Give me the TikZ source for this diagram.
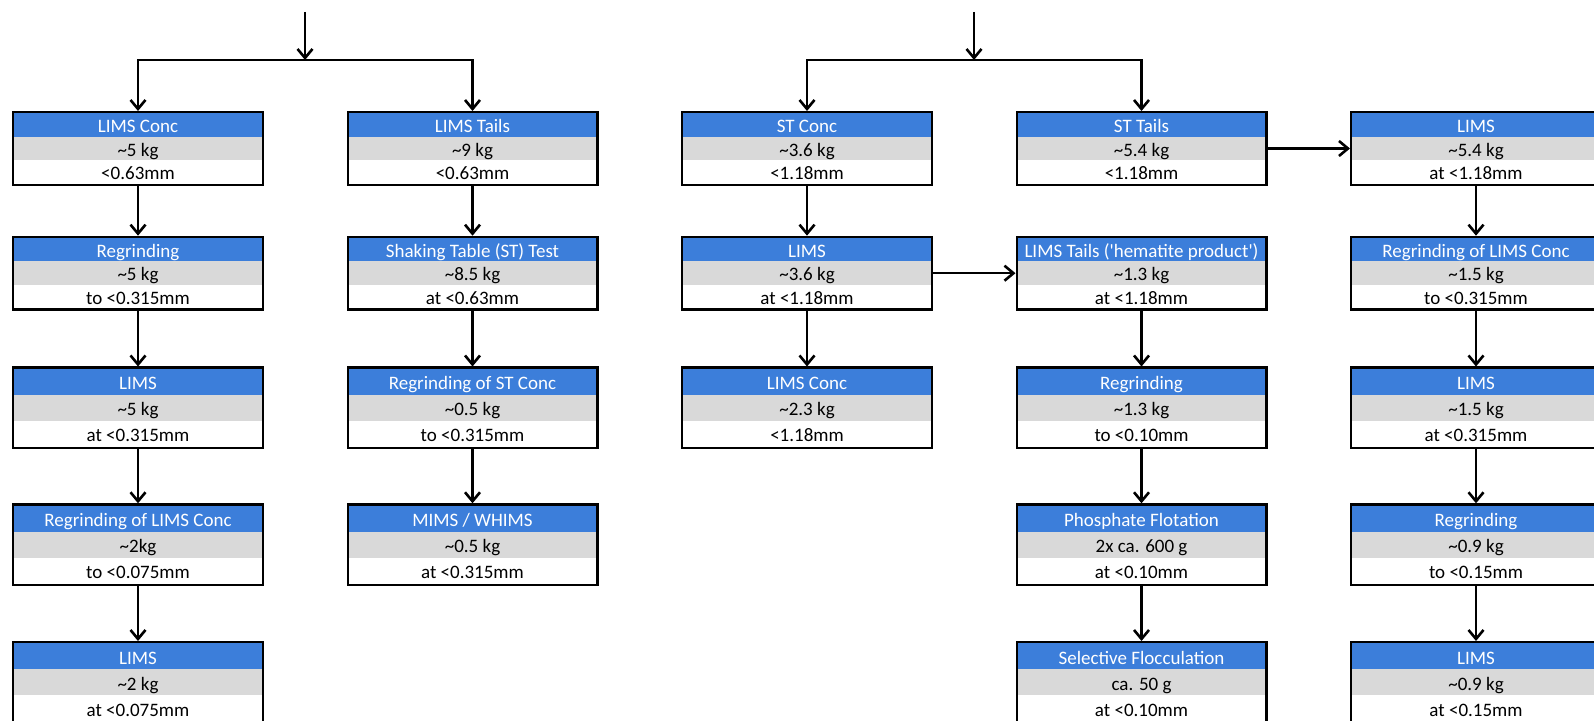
\documentclass[tikz,border=0pt]{standalone}
\usepackage{fontspec}
\setmainfont{Carlito}
\usetikzlibrary{matrix,positioning,arrows.meta}
\definecolor{hdblue}{RGB}{60,126,218}
\definecolor{rowgray}{RGB}{217,217,217}
\newcommand{\apx}{\textasciitilde}
\newcommand{\flowbox}[6]{%
  \matrix (#1) at (#2) [stagebox, nodes={minimum height=#3}] {
    #4 \\ #5 \\ #6 \\
  };}
\tikzset{
  stagebox/.style={matrix of nodes, draw, line width=1.2pt, inner sep=0.6pt,
    anchor=north, row sep=0pt, fill=white,
    nodes={minimum width=123.6pt, inner sep=0pt, anchor=center,
      text height=7.7pt, text depth=0pt, font=\fontsize{9.5}{10}\selectfont},
    row 1/.style={nodes={fill=hdblue, text=white}},
    row 2/.style={nodes={fill=rowgray}}},
  flow/.style={line width=1.3pt, -{Straight Barb[length=4.5pt,width=7.5pt]}},
}

\begin{document}
\begin{tikzpicture}[x=0.5pt,y=-0.5pt]
  \useasboundingbox (0,0) rectangle (1594,721);
  \clip (0,0) rectangle (1594,721);

  % LIMS branch
  \flowbox{c1r1}{138,111}{11.7pt}{LIMS Conc}{\apx5 kg}{<0.63mm}
  \flowbox{c1r2}{138,235.7}{11.7pt}{Regrinding}{\apx5 kg}{to <0.315mm}
  \flowbox{c1r3}{138,366.5}{13pt}{LIMS}{\apx5 kg}{at <0.315mm}
  \flowbox{c1r4}{138,503.3}{13pt}{Regrinding of LIMS Conc}{\apx2kg}{to <0.075mm}
  \flowbox{c1r5}{138,641}{13pt}{LIMS}{\apx2 kg}{at <0.075mm}
  \flowbox{c2r1}{472.5,111}{11.7pt}{LIMS Tails}{\apx9 kg}{<0.63mm}
  \flowbox{c2r2}{472.5,235.7}{11.7pt}{Shaking Table (ST) Test}{\apx8.5 kg}{at <0.63mm}
  \flowbox{c2r3}{472.5,366.5}{13pt}{Regrinding of ST Conc}{\apx0.5 kg}{to <0.315mm}
  \flowbox{c2r4}{472.5,503.3}{13pt}{MIMS / WHIMS}{\apx0.5 kg}{at <0.315mm}

  % ST branch
  \flowbox{c3r1}{807,111}{11.7pt}{ST Conc}{\apx3.6 kg}{<1.18mm}
  \flowbox{c3r2}{807,235.7}{11.7pt}{LIMS}{\apx3.6 kg}{at <1.18mm}
  \flowbox{c3r3}{807,366.5}{13pt}{LIMS Conc}{\apx2.3 kg}{<1.18mm}
  \flowbox{c4r1}{1141.5,111}{11.7pt}{ST Tails}{\apx5.4 kg}{<1.18mm}
  \flowbox{c4r2}{1141.5,235.7}{11.7pt}{LIMS Tails (\textquotesingle hematite product\textquotesingle)}{\apx1.3 kg}{at <1.18mm}
  \flowbox{c4r3}{1141.5,366.5}{13pt}{Regrinding}{\apx1.3 kg}{to <0.10mm}
  \flowbox{c4r4}{1141.5,503.3}{13pt}{Phosphate Flotation}{2x ca. 600 g}{at <0.10mm}
  \flowbox{c4r5}{1141.5,641}{13pt}{Selective Flocculation}{ca. 50 g}{at <0.10mm}
  \flowbox{c5r1}{1476,111}{11.7pt}{LIMS}{\apx5.4 kg}{at <1.18mm}
  \flowbox{c5r2}{1476,235.7}{11.7pt}{Regrinding of LIMS Conc}{\apx1.5 kg}{to <0.315mm}
  \flowbox{c5r3}{1476,366.5}{13pt}{LIMS}{\apx1.5 kg}{at <0.315mm}
  \flowbox{c5r4}{1476,503.3}{13pt}{Regrinding}{\apx0.9 kg}{to <0.15mm}
  \flowbox{c5r5}{1476,641}{13pt}{LIMS}{\apx0.9 kg}{at <0.15mm}

  % feeds and splits
  \coordinate (inL) at (305,12);
  \coordinate (splitL) at (305,60);
  \coordinate (inR) at (974,12);
  \coordinate (splitR) at (974,60);
  \draw[flow] (inL) -- (splitL);
  \draw[flow] (splitL) -| (c1r1.north);
  \draw[flow] (splitL) -| (c2r1.north);
  \draw[flow] (inR) -- (splitR);
  \draw[flow] (splitR) -| (c3r1.north);
  \draw[flow] (splitR) -| (c4r1.north);

  % down the columns
  \foreach \a/\b in {c1r1/c1r2, c1r2/c1r3, c1r3/c1r4, c1r4/c1r5,
                     c2r1/c2r2, c2r2/c2r3, c2r3/c2r4,
                     c3r1/c3r2, c3r2/c3r3,
                     c4r2/c4r3, c4r3/c4r4, c4r4/c4r5,
                     c5r1/c5r2, c5r2/c5r3, c5r3/c5r4, c5r4/c5r5}
    \draw[flow] (\a.south) -- (\b.north);

  % across
  \draw[flow] (c4r1.east |- c4r1-2-1) -- (c5r1.west |- c4r1-2-1);
  \draw[flow] (c3r2.east |- c3r2-2-1) -- (c4r2.west |- c3r2-2-1);
\end{tikzpicture}
\end{document}
